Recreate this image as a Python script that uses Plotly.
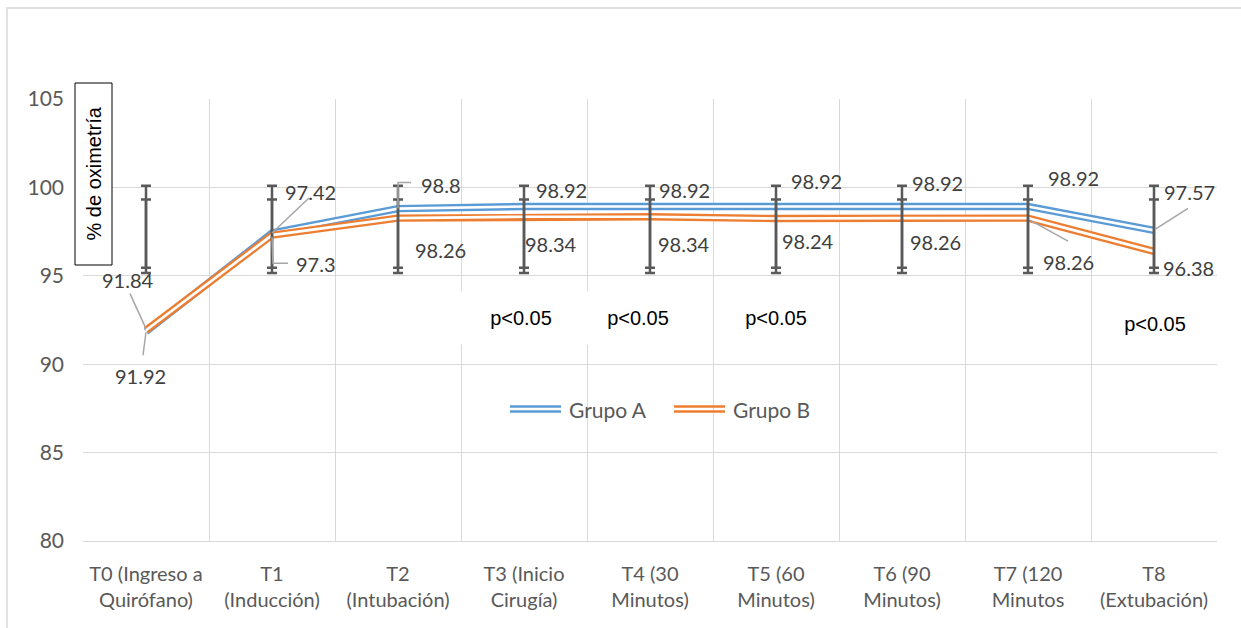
import plotly.graph_objects as go

# ---- data -------------------------------------------------------------
categorias = [
    "T0 (Ingreso a<br>Quirófano)",
    "T1<br>(Inducción)",
    "T2<br>(Intubación)",
    "T3 (Inicio<br>Cirugía)",
    "T4 (30<br>Minutos)",
    "T5 (60<br>Minutos)",
    "T6 (90<br>Minutos)",
    "T7 (120<br>Minutos",
    "T8<br>(Extubación)",
]
grupo_a = [91.84, 97.42, 98.8, 98.92, 98.92, 98.92, 98.92, 98.92, 97.57]
grupo_b = [91.92, 97.3, 98.26, 98.34, 98.34, 98.24, 98.26, 98.26, 96.38]

# range bars shown at every time point (upper / lower ends)
rango1_sup = [100.1] * 9
rango1_inf = [95.45] * 9
rango2_sup = [99.32] * 9
rango2_inf = [95.16] * 9

significancia = ["p<0.05", "p<0.05", "p<0.05", "p<0.05"]

# ---- layout constants ---------------------------------------------------
W, H = 1241, 628
ML, MR, MT, MB = 83, 24, 99, 87
PW, PH = W - ML - MR, H - MT - MB

BLUE = "#5B9BD5"
ORANGE = "#ED7D31"
GRID = "#D9D9D9"
TICK = "#595959"
LABEL = "#404040"
LEADER = "#A6A6A6"
UI_FONT = "Lato"
BOX_FONT = "Liberation Sans"


def px_x(px):
    return (px - ML) / PW


def px_y(py):
    return (H - MB - py) / PH


idx = list(range(len(categorias)))
fig = go.Figure()

# double ("compound") lines: coloured stroke with a white core
for serie, color, name in [(grupo_a, BLUE, "Grupo A"), (grupo_b, ORANGE, "Grupo B")]:
    fig.add_trace(go.Scatter(x=idx, y=serie, mode="lines", name=name,
                             line=dict(color=color, width=7.3),
                             showlegend=False, hoverinfo="skip"))
    fig.add_trace(go.Scatter(x=idx, y=serie, mode="lines",
                             line=dict(color="white", width=2.7),
                             showlegend=False, hoverinfo="skip"))

# range bars
for sup, inf in [(rango1_sup, rango1_inf), (rango2_sup, rango2_inf)]:
    mid = [(s + i) / 2 for s, i in zip(sup, inf)]
    fig.add_trace(go.Scatter(
        x=idx, y=mid, mode="markers",
        marker=dict(size=1, color="rgba(0,0,0,0)"),
        error_y=dict(type="data", symmetric=False,
                     array=[s - m for s, m in zip(sup, mid)],
                     arrayminus=[m - i for m, i in zip(mid, inf)],
                     color=TICK, thickness=2.5, width=5),
        showlegend=False, hoverinfo="skip"))

annotations = []
shapes = []

# data labels (text offset in px from the point: dx right, dy down)
off_a = [(-18, -52), (38, -41), (43, -24), (37, -16), (34, -16),
         (40, -25), (35, -23), (45, -28), (35, -38)]
off_b = [(-6, 46), (44, 29), (42, 32), (27, 27), (34, 27),
         (32, 22), (33, 24), (40, 44), (34, 17)]
for serie, offs in [(grupo_a, off_a), (grupo_b, off_b)]:
    for i, (v, (dx, dy)) in enumerate(zip(serie, offs)):
        annotations.append(dict(
            x=i, y=v, xref="x", yref="y", text=f"{v:g}", showarrow=False,
            xanchor="center", yanchor="middle",
            xshift=dx, yshift=-dy,
            font=dict(family=UI_FONT, size=20, color=LABEL)))

# leader lines, drawn in px relative to the labelled point (y up)
leaders = [
    (0, grupo_a[0], "M -16,38 L 0,3"),
    (0, grupo_b[0], "M -3,-25 L 0,-2"),
    (1, grupo_a[1], "M 37,35 L 0,0"),
    (1, grupo_b[1], "M 0,-2 L 1,-28 L 16,-28"),
    (2, grupo_a[2], "M 0,0 L 0,26 L 13,26"),
    (7, grupo_b[7], "M 2,-2 L 40,-23"),
    (8, grupo_a[8], "M 1,1 L 34,22"),
]
for i, v, path in leaders:
    shapes.append(dict(type="path", xref="x", yref="y",
                       xsizemode="pixel", ysizemode="pixel",
                       xanchor=i, yanchor=v, path=path,
                       line=dict(color=LEADER, width=1.5)))

# significance text boxes
sig_pos = [(521, 318, 140), (638, 318, 120), (776, 318, 100), (1155, 324, 100)]
for txt, (cx, cy, bw) in zip(significancia, sig_pos):
    annotations.append(dict(
        x=px_x(cx), y=px_y(cy), xref="paper", yref="paper", text=txt,
        xanchor="center", yanchor="middle",
        showarrow=False, width=bw, height=50, bgcolor="white",
        font=dict(family=BOX_FONT, size=20, color="black")))

# axis title box
shapes.append(dict(type="rect", xref="paper", yref="paper",
                   x0=px_x(75), x1=px_x(112), y0=px_y(265), y1=px_y(83),
                   fillcolor="white", line=dict(color="black", width=1)))
annotations.append(dict(x=px_x(93.5), y=px_y(174), xref="paper", yref="paper",
                        text="% de oximetría", textangle=-90, showarrow=False,
                        xanchor="center", yanchor="middle",
                        font=dict(family=BOX_FONT, size=20, color="black")))

# legend
for (x0, x1, tx, color, name) in [(510, 561, 567, BLUE, "Grupo A"),
                                  (674, 725, 731, ORANGE, "Grupo B")]:
    for yy in (406.5, 411.5):
        shapes.append(dict(type="line", xref="paper", yref="paper",
                           x0=px_x(x0), x1=px_x(x1), y0=px_y(yy), y1=px_y(yy),
                           line=dict(color=color, width=2.4)))
    annotations.append(dict(x=px_x(tx), y=px_y(409), xref="paper", yref="paper",
                            text=name, showarrow=False,
                            xanchor="left", yanchor="middle",
                            font=dict(family=UI_FONT, size=21, color=TICK)))

# chart-area border
shapes.append(dict(type="rect", xref="paper", yref="paper",
                   x0=px_x(7), x1=px_x(1260), y0=px_y(650), y1=px_y(8),
                   line=dict(color=GRID, width=1.5), layer="below"))

fig.update_layout(
    width=W, height=H,
    margin=dict(l=ML, r=MR, t=MT, b=MB),
    paper_bgcolor="white", plot_bgcolor="white",
    showlegend=False,
    shapes=shapes, annotations=annotations,
    xaxis=dict(range=[-0.5, len(categorias) - 0.5], tickmode="array",
               tickvals=idx, ticktext=categorias, showgrid=False,
               zeroline=False, ticks="", ticklabelstandoff=15,
               tickfont=dict(family=UI_FONT, size=20, color=TICK),
               showline=True, linecolor=GRID, linewidth=1,
               minor=dict(tick0=-0.5, dtick=1, showgrid=True,
                          gridcolor=GRID, gridwidth=1)),
    yaxis=dict(range=[80, 105], dtick=5, showgrid=True, gridcolor=GRID,
               gridwidth=1, zeroline=False, ticks="", ticklabelstandoff=18,
               tickfont=dict(family=UI_FONT, size=21, color=TICK)),
)

fig.write_html("out.html")
